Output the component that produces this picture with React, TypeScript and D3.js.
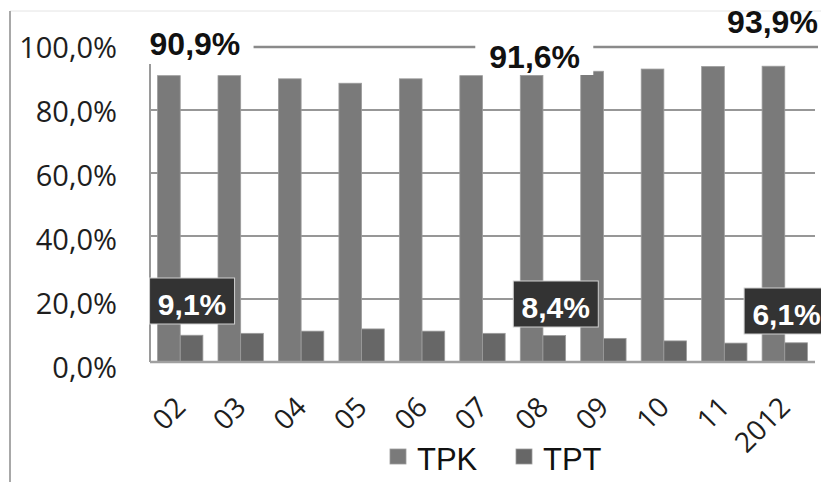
import React from "react";
import * as d3 from "d3";

const categories = ["02", "03", "04", "05", "06", "07", "08", "09", "10", "11", "2012"];
const seriesNames = ["TPK", "TPT"];
const tpk = [90.9, 90.9, 89.9, 88.5, 89.9, 90.9, 91.0, 92.3, 93.0, 93.8, 93.9];
const tpt = [8.5, 9.1, 9.8, 10.5, 9.8, 9.1, 8.4, 7.5, 6.7, 6.0, 6.1];
const yTicks = [0, 20, 40, 60, 80, 100];
const tpkLabels = [
  { i: 0, text: "90,9%" },
  { i: 6, text: "91,6%" },
  { i: 10, text: "93,9%" },
];
const tptLabels = [
  { i: 0, text: "9,1%" },
  { i: 6, text: "8,4%" },
  { i: 10, text: "6,1%" },
];

const W = 821;
const H = 482;
const colors = ["#7a7a7a", "#676767"];

export default function App() {
  const x = d3.scaleBand<string>().domain(categories).range([150, 815]).paddingInner(0.25).paddingOuter(0.125);
  const xs = d3.scaleBand<string>().domain(seriesNames).range([0, x.bandwidth()]);
  const y = d3.scaleLinear().domain([0, 100]).range([362, 47]);
  const yLab = d3.scaleLinear().domain([0, 100]).range([378, 58]);
  const fmt = (v: number) => v.toFixed(1).replace(".", ",") + "%";
  const values = [tpk, tpt];

  // label layout offsets (relative to category band)
  const tpkLabelLayout: Record<number, { dx: number; base: number; box: [number, number, number, number] | null }> = {
    0: { dx: -8, base: 55, box: [-17, 26, 113, 38] },
    6: { dx: -31, base: 68, box: [-45, 40, 118, 35] },
    10: { dx: -35, base: 33, box: null },
  };
  const tptLabelLayout: Record<number, { dx: number; top: number }> = {
    0: { dx: -8, top: 278 },
    6: { dx: -7, top: 281 },
    10: { dx: -18, top: 288 },
  };

  return (
    <svg width={W} height={H} style={{ position: "absolute", left: 0, top: 0, background: "#fff" }}>
      {/* frame */}
      <line x1={10} x2={W} y1={11} y2={11} stroke="#e4e4e4" strokeWidth={1} />
      <line x1={10} x2={10} y1={11} y2={H} stroke="#a8a8a8" strokeWidth={2} />

      {/* gridlines */}
      {yTicks.filter((t) => t > 0 && t < 100).map((t) => (
        <line key={t} x1={150} x2={815} y1={y(t)} y2={y(t)} stroke="#979797" strokeWidth={2} />
      ))}
      <line x1={150} x2={818} y1={y(100)} y2={y(100)} stroke="#8a8a8a" strokeWidth={2.5} />

      {/* y axis */}
      <line x1={150} x2={150} y1={y(100)} y2={y(0)} stroke="#9a9a9a" strokeWidth={2} />
      {yTicks.map((t) => (
        <text key={t} x={117} y={yLab(t)} textAnchor="end" fontFamily="'Open Sans', sans-serif" fontSize={29} fill="#1e1e1e">
          {fmt(t)}
        </text>
      ))}

      {/* bars */}
      {categories.map((c, i) => (
        <g key={c} transform={`translate(${x(c)},0)`}>
          {seriesNames.map((s, k) => (
            <rect
              key={s}
              x={xs(s)}
              y={y(values[k][i])}
              width={xs.bandwidth()}
              height={y(0) - y(values[k][i])}
              fill={colors[k]}
              stroke="#9c9c9c"
              strokeWidth={0.8}
            />
          ))}
        </g>
      ))}

      {/* baseline */}
      <line x1={150} x2={815} y1={y(0)} y2={y(0)} stroke="#a0a0a0" strokeWidth={2.5} />

      {/* x tick labels */}
      {categories.map((c) => {
        const cx = (x(c) as number) + x.bandwidth() / 2 + 7;
        return (
          <text
            key={c}
            transform={`translate(${cx},409) rotate(-45)`}
            textAnchor="end"
            fontFamily="'Open Sans', sans-serif"
            fontSize={28}
            fill="#1e1e1e"
          >
            {c}
          </text>
        );
      })}

      {/* TPK labels */}
      {tpkLabels.map((l) => {
        const lay = tpkLabelLayout[l.i];
        const bx = x(categories[l.i]) as number;
        return (
          <g key={l.text}>
            {lay.box && (
              <rect x={bx + lay.box[0]} y={lay.box[1]} width={lay.box[2]} height={lay.box[3]} fill="#fff" />
            )}
            <text
              x={bx + lay.dx}
              y={lay.base}
              fontFamily="'Liberation Sans', Arial, sans-serif"
              fontWeight="bold"
              fontSize={32}
              fill="#111"
            >
              {l.text}
            </text>
          </g>
        );
      })}

      {/* TPT labels */}
      {tptLabels.map((l) => {
        const lay = tptLabelLayout[l.i];
        const bx = (x(categories[l.i]) as number) + lay.dx;
        return (
          <g key={l.text}>
            <rect x={bx} y={lay.top} width={85} height={46} fill="#333" stroke="#cfcfcf" strokeWidth={1} />
            <text
              x={bx + 42.5}
              y={lay.top + 37}
              textAnchor="middle"
              fontFamily="'Liberation Sans Narrow', 'Liberation Sans', Arial, sans-serif"
              fontWeight="bold"
              fontSize={30}
              fill="#fff"
            >
              {l.text}
            </text>
          </g>
        );
      })}

      {/* legend */}
      {seriesNames.map((s, k) => {
        const lx = [390, 516][k];
        return (
          <g key={s}>
            <rect x={lx} y={449} width={16} height={15} fill={colors[k]} stroke="#9c9c9c" strokeWidth={0.8} />
            <text x={lx + 27} y={470} fontFamily="'Liberation Sans', Arial, sans-serif" fontSize={31} fill="#111">
              {s}
            </text>
          </g>
        );
      })}
    </svg>
  );
}
